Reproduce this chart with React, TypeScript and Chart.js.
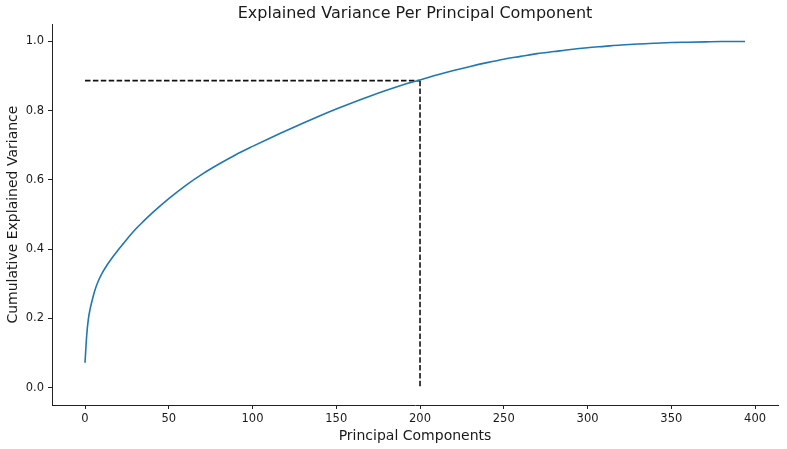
import { useEffect, useRef } from 'react';
import { Chart, registerables } from 'chart.js';

Chart.register(...registerables);

// principal component index and cumulative explained variance
const components = [0, 1, 2, 3, 4, 6, 8, 10, 13, 16, 20, 25, 30, 35, 40, 50, 60, 70, 80, 90, 100,
  110, 120, 130, 140, 150, 160, 170, 180, 190, 200, 210, 220, 230, 240, 250, 260, 270, 280, 290,
  300, 310, 320, 330, 340, 350, 360, 370, 380, 394];
const cumVariance = [0.072, 0.15, 0.198, 0.226, 0.247, 0.283, 0.309, 0.329, 0.353, 0.374, 0.399,
  0.429, 0.457, 0.481, 0.504, 0.546, 0.584, 0.617, 0.646, 0.673, 0.697,
  0.720, 0.742, 0.764, 0.785, 0.805, 0.824, 0.842, 0.859, 0.875, 0.889, 0.903, 0.916, 0.928, 0.939,
  0.949, 0.957, 0.965, 0.971, 0.977, 0.982, 0.986, 0.990, 0.993, 0.995, 0.997, 0.998, 0.999, 1.0, 1.0];

// threshold marker: 200 components -> ~0.887 of variance
const markerX = [0, 200, 200];
const markerY = [0.887, 0.887, 0];

const xTicks = [0, 50, 100, 150, 200, 250, 300, 350, 400];
const yTicks = [0, 0.2, 0.4, 0.6, 0.8, 1.0];

const FONT = "'DejaVu Sans', sans-serif";
const INK = '#1a1a1a';

export default function App() {
  const canvasRef = useRef<HTMLCanvasElement>(null);

  useEffect(() => {
    document.body.style.margin = '0';
    if (!canvasRef.current) return;

    const chart = new Chart(canvasRef.current, {
      type: 'line',
      data: {
        datasets: [
          {
            label: 'cumulative',
            data: components.map((c, i) => ({ x: c, y: cumVariance[i] })),
            borderColor: '#1f77b4',
            borderWidth: 1.6,
            pointRadius: 0,
            cubicInterpolationMode: 'monotone',
            fill: false
          },
          {
            label: 'horizontal',
            data: [{ x: markerX[0], y: markerY[0] }, { x: markerX[1], y: markerY[1] }],
            borderColor: '#111',
            borderWidth: 1.6,
            borderDash: [5.5, 2.4],
            pointRadius: 0,
            fill: false
          },
          {
            label: 'vertical',
            data: [{ x: markerX[1], y: markerY[1] }, { x: markerX[2], y: markerY[2] }],
            borderColor: '#111',
            borderWidth: 1.6,
            borderDash: [5.5, 2.4],
            pointRadius: 0,
            fill: false
          }
        ]
      },
      options: {
        animation: false,
        responsive: true,
        maintainAspectRatio: false,
        layout: { padding: { left: 0, right: 9, top: 0, bottom: 0 } },
        plugins: {
          legend: { display: false },
          tooltip: { enabled: false },
          title: {
            display: true,
            text: 'Explained Variance Per Principal Component',
            fullSize: false,
            color: INK,
            font: { family: FONT, size: 16, weight: 'normal' },
            padding: { top: 4, bottom: 1 }
          }
        },
        scales: {
          x: {
            type: 'linear',
            min: -19.7,
            max: 413.7,
            afterBuildTicks: (scale: any) => {
              scale.ticks = xTicks.map((v) => ({ value: v }));
            },
            afterFit: (scale: any) => {
              scale.height = 44;
            },
            ticks: {
              color: INK,
              font: { family: FONT, size: 11.5 },
              padding: 3,
              maxRotation: 0,
              autoSkip: false
            },
            grid: {
              display: true,
              drawOnChartArea: false,
              drawTicks: true,
              tickLength: 4,
              color: '#222'
            },
            border: { display: true, color: '#222', width: 1 },
            title: {
              display: true,
              text: 'Principal Components',
              color: INK,
              font: { family: FONT, size: 14 },
              padding: { top: 0, bottom: 4 }
            }
          },
          y: {
            type: 'linear',
            min: -0.05,
            max: 1.05,
            afterBuildTicks: (scale: any) => {
              scale.ticks = yTicks.map((v) => ({ value: v }));
            },
            afterFit: (scale: any) => {
              scale.width = 52;
            },
            ticks: {
              color: INK,
              font: { family: FONT, size: 11.5 },
              padding: 4,
              callback: (v: any) => Number(v).toFixed(1)
            },
            grid: {
              display: true,
              drawOnChartArea: false,
              drawTicks: true,
              tickLength: 4,
              color: '#222'
            },
            border: { display: true, color: '#222', width: 1 },
            title: {
              display: true,
              text: 'Cumulative Explained Variance',
              color: INK,
              font: { family: FONT, size: 14 },
              padding: { top: 5, bottom: 0 }
            }
          }
        }
      }
    });

    return () => {
      chart.destroy();
    };
  }, []);

  return (
    <div style={{ width: '787px', height: '449px', position: 'relative' }}>
      <canvas ref={canvasRef} />
    </div>
  );
}
